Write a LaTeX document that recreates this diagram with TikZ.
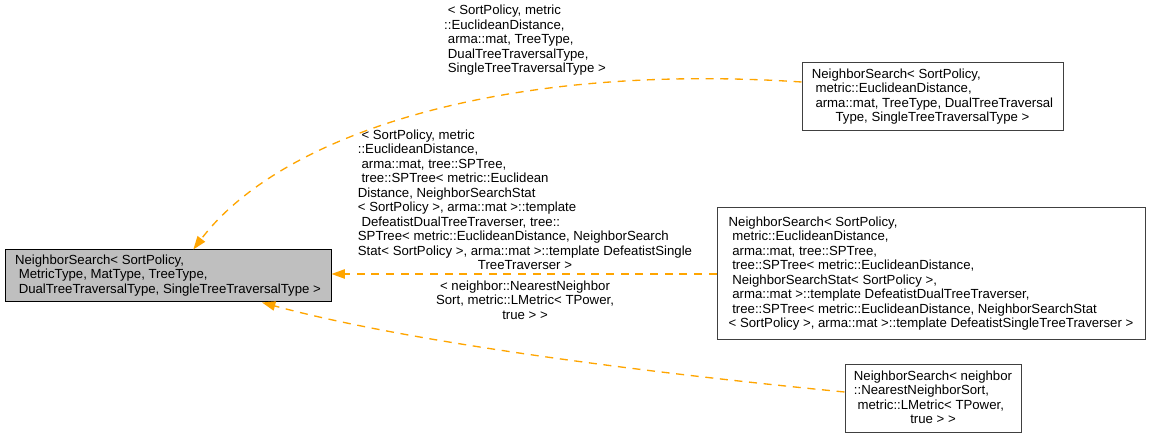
\documentclass[tikz,border=0pt]{standalone}
\usepackage{fontspec}
\setmainfont{Liberation Sans}
\usetikzlibrary{arrows.meta}
\definecolor{edgeor}{HTML}{FFA500}
\definecolor{mainfill}{HTML}{BFBFBF}
\newcommand{\ls}{\hspace*{0.278em}}
\begin{document}
\begin{tikzpicture}[x=0.75pt,y=-0.75pt,
  font=\fontsize{9.9}{10.9}\selectfont,
  box/.style={draw=black!75, line width=0.75pt, inner sep=0pt, fill=white},
  mainbox/.style={draw=black, line width=0.75pt, inner sep=0pt, fill=mainfill},
  lbl/.style={inner sep=0pt},
  edge/.style={draw=edgeor, line width=1pt, dash pattern=on 6pt off 5pt,
    -{Triangle[length=10pt,width=7pt]}}]
\useasboundingbox (0,0) rectangle (1153,441);

\node[mainbox, minimum width=244.5pt, minimum height=39pt] (main) at (168,276)
  {\begin{tabular}{@{}l@{}}NeighborSearch< SortPolicy,\\\ls MetricType, MatType, TreeType,\\\ls DualTreeTraversalType, SingleTreeTraversalType >\end{tabular}};

\node[box, minimum width=195.75pt, minimum height=51pt] (A) at (932.5,97)
  {\begin{tabular}{@{}l@{}}NeighborSearch< SortPolicy,\\\ls metric::EuclideanDistance,\\\ls arma::mat, TreeType, DualTreeTraversal\\\multicolumn{1}{@{}c@{}}{Type, SingleTreeTraversalType >}\end{tabular}};

\node[box, minimum width=321pt, minimum height=99pt] (B) at (931,274)
  {\begin{tabular}{@{}l@{}}NeighborSearch< SortPolicy,\\\ls metric::EuclideanDistance,\\\ls arma::mat, tree::SPTree,\\\ls tree::SPTree< metric::EuclideanDistance,\\\ls NeighborSearchStat< SortPolicy >,\\\ls arma::mat >::template DefeatistDualTreeTraverser,\\\ls tree::SPTree< metric::EuclideanDistance, NeighborSearchStat\\< SortPolicy >, arma::mat >::template DefeatistSingleTreeTraverser >\end{tabular}};

\node[box, minimum width=132pt, minimum height=51pt] (C) at (933,399)
  {\begin{tabular}{@{}l@{}}NeighborSearch< neighbor\\::NearestNeighborSort,\\\ls metric::LMetric< TPower,\\\multicolumn{1}{@{}c@{}}{true > >}\end{tabular}};

\node[lbl] (la) at (525,41)
  {\begin{tabular}{@{}l@{}}\ls< SortPolicy, metric\\::EuclideanDistance,\\\ls arma::mat, TreeType,\\\ls DualTreeTraversalType,\\\ls SingleTreeTraversalType >\end{tabular}};

\node[lbl] (lb) at (525,201.5)
  {\begin{tabular}{@{}l@{}}\ls< SortPolicy, metric\\::EuclideanDistance,\\\ls arma::mat, tree::SPTree,\\\ls tree::SPTree< metric::Euclidean\\Distance, NeighborSearchStat\\< SortPolicy >, arma::mat >::template\\\ls DefeatistDualTreeTraverser, tree::\\SPTree< metric::EuclideanDistance, NeighborSearch\\Stat< SortPolicy >, arma::mat >::template DefeatistSingle\\\multicolumn{1}{@{}c@{}}{TreeTraverser >}\end{tabular}};

\node[lbl] (lc) at (525,302)
  {\begin{tabular}{@{}c@{}}< neighbor::NearestNeighbor\\Sort, metric::LMetric< TPower,\\true > >\end{tabular}};

\draw[edge] ([yshift=11.25pt]A.west) .. controls (500,62) and (280,135) .. ([xshift=19pt]main.north);
\draw[edge] (B.west) -- (B.west -| main.east);
\draw[edge] ([yshift=5.25pt]C.west) .. controls (620,370) and (400,340) .. ([xshift=70.5pt]main.south);
\end{tikzpicture}
\end{document}
